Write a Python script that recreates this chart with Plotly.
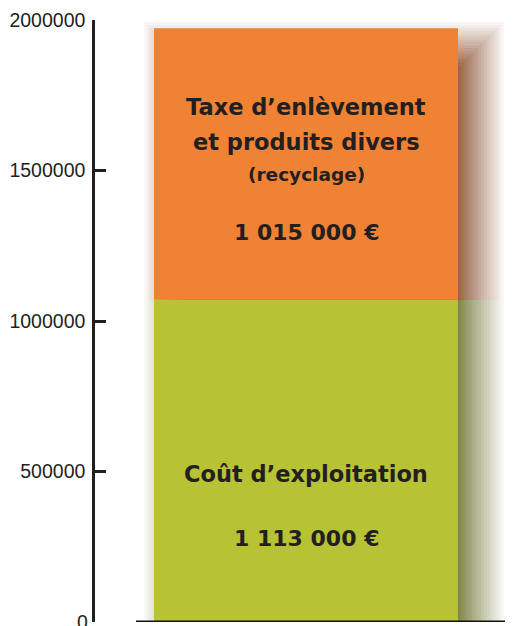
import plotly.graph_objects as go

# ---- data ----
segments = ["Coût d'exploitation", "Taxe d'enlèvement et produits divers"]
bar_values = [1071000, 902000]          # heights as drawn
value_labels = ["1 113 000 €", "1 015 000 €"]
colors = ["#B7C235", "#EF8233"]
shadow_rgb = [(92, 98, 22), (122, 52, 10)]
tick_vals = [0, 500000, 1000000, 1500000, 2000000]
tick_text = ["0", "500000", "1000000", "1500000", "2000000"]

# page has an 8px body margin; lay out in page coordinates
PAGE_OFF = 8
PW, PH = 514, 626
W, H = PW - PAGE_OFF, PH - PAGE_OFF
AX_X, TOP_Y, BOT_Y = 95, 20, 622          # page coords
ML = AX_X - PAGE_OFF
MT = TOP_Y - PAGE_OFF
MB = H - (BOT_Y - PAGE_OFF)
MR = 0
BAR_L, BAR_R = 154, 458                   # page coords
PX_PER_X = float(BAR_R - BAR_L)
BAR_CX = (BAR_L + BAR_R) / 2.0
plot_h = BOT_Y - TOP_Y
data_per_px = 2000000 / plot_h

def xd(px):  # page x -> data x
    return (px - BAR_CX) / PX_PER_X

xr = [xd(AX_X), xd(PW - MR)]

fig = go.Figure()

# soft drop shadow built from translucent layers
N = 16
OFF = 18
SPREAD = 46.0
A0 = 0.72
T = [1.0] * (N + 2)
for j in range(N, 0, -1):
    T[j] = 1 - A0 * (N - j + 1) / N
alphas = {j: 1 - T[j] / T[j + 1] for j in range(1, N + 1)}
for j in range(1, N + 1):
    s = j * SPREAD / N - OFF
    left = xd(BAR_L + OFF - s)
    right = xd(BAR_R + OFF + s)
    top_drop = (OFF + 4 - s) * data_per_px
    a = alphas[j]
    r, g, b = shadow_rgb[0]
    fig.add_trace(go.Bar(
        x=[0], y=[bar_values[0]], base=[0],
        width=[right - left], offset=left,
        marker=dict(color=f"rgba({r},{g},{b},{a:.4f})", line=dict(width=0)),
        hoverinfo="skip", showlegend=False))
    r, g, b = shadow_rgb[1]
    fig.add_trace(go.Bar(
        x=[0], y=[bar_values[1] - top_drop], base=[bar_values[0]],
        width=[right - left], offset=left,
        marker=dict(color=f"rgba({r},{g},{b},{a:.4f})", line=dict(width=0)),
        hoverinfo="skip", showlegend=False))

# main stacked bar
bases = [0, bar_values[0]]
for i in range(2):
    fig.add_trace(go.Bar(
        x=[0], y=[bar_values[i]], base=[bases[i]], width=[1.0],
        marker=dict(color=colors[i], line=dict(width=0)),
        name=segments[i], showlegend=False))

txt_color = "#231f20"
font_b = "DejaVu Sans"

def yat(py):
    return (BOT_Y - py) * data_per_px

annos = [
    ("<b>Taxe d’enlèvement</b>", 107, 22.5),
    ("<b>et produits divers</b>", 142, 22.5),
    ("<b>(recyclage)</b>", 174, 18.5),
    ("<b>" + value_labels[1] + "</b>", 232, 22),
    ("<b>Coût d’exploitation</b>", 474, 22.5),
    ("<b>" + value_labels[0] + "</b>", 538, 22),
]
for t, py, sz in annos:
    fig.add_annotation(x=0, y=yat(py), xref="x", yref="y", text=t,
                       showarrow=False, xanchor="center", yanchor="middle",
                       font=dict(family=font_b, size=sz, color=txt_color))

# the "0" tick label sits at the page edge (partly cut off, as in the source)
fig.add_annotation(x=0, y=tick_vals[0], xref="paper", yref="y", text=tick_text[0],
                   showarrow=False, xanchor="right", yanchor="middle", xshift=-5,
                   font=dict(family="Liberation Sans", size=19.5, color=txt_color))

# baseline
fig.add_shape(type="line", xref="x", yref="y",
              x0=xd(136), x1=xd(505), y0=0, y1=0,
              line=dict(color="#111111", width=3), layer="above")

fig.update_layout(
    width=W, height=H, barmode="overlay",
    margin=dict(l=ML, r=MR, t=MT, b=MB, pad=0),
    paper_bgcolor="white", plot_bgcolor="white",
    xaxis=dict(visible=False, range=xr, fixedrange=True),
    yaxis=dict(range=[0, 2000000], tickvals=tick_vals, ticktext=tick_text,
               showgrid=False, zeroline=False, showline=True,
               linecolor=txt_color, linewidth=2.5, ticks="inside",
               ticklen=11, tickwidth=2.5, tickcolor=txt_color,
               ticklabelstandoff=3,
               tickfont=dict(family="Liberation Sans", size=19.5, color=txt_color)),
)

fig.write_html("out.html")
